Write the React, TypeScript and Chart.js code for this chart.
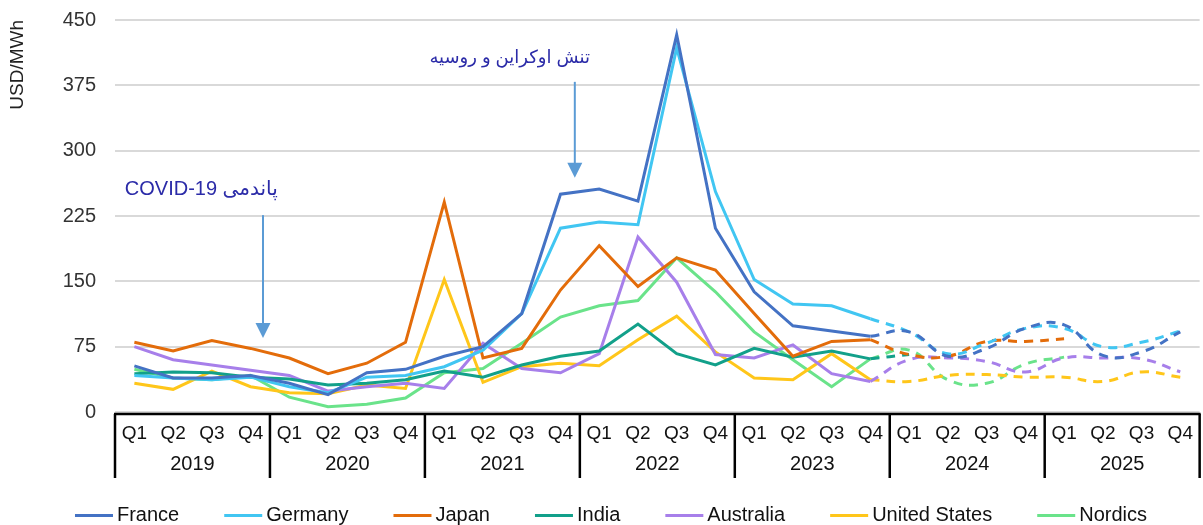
import React, { useEffect, useRef } from 'react';
import { Chart, registerables } from 'chart.js';

Chart.register(...registerables);

const quarterLabels = [
  'Q1','Q2','Q3','Q4','Q1','Q2','Q3','Q4','Q1','Q2','Q3','Q4','Q1','Q2','Q3','Q4',
  'Q1','Q2','Q3','Q4','Q1','Q2','Q3','Q4','Q1','Q2','Q3','Q4',
];
const years = ['2019', '2020', '2021', '2022', '2023', '2024', '2025'];
const yTicks = [0, 75, 150, 225, 300, 375, 450];

// Actual values, 2019 Q1 .. 2023 Q4
const france = [53, 39, 39, 42, 33, 20, 45, 49, 64, 75, 113, 250, 256, 242, 433, 211, 138, 99, 93, 87];
const germany = [42, 39, 37, 40, 29, 22, 40, 42, 52, 71, 113, 211, 218, 215, 418, 253, 152, 124, 122, 107];
const japan = [80, 70, 82, 73, 62, 44, 56, 80, 241, 62, 73, 140, 191, 144, 177, 163, 113, 64, 81, 83];
const india = [44, 46, 45, 40, 38, 31, 33, 37, 47, 40, 54, 64, 70, 101, 67, 54, 73, 63, 70, 61];
const australia = [75, 60, 54, 48, 42, 24, 29, 33, 27, 79, 50, 45, 67, 201, 149, 66, 62, 77, 44, 35];
const unitedStates = [33, 26, 47, 29, 22, 21, 31, 27, 152, 34, 52, 56, 53, 83, 110, 69, 39, 37, 67, 37];
const nordics = [49, 39, 37, 42, 17, 6, 9, 16, 45, 50, 79, 109, 122, 128, 177, 138, 92, 60, 29, 61];

// Forecasts, starting at 2023 Q4
const forecastStart = 19;
const franceF = [87, 92, 64, 73, 96, 100, 65, 69, 92];
const germanyF = [107, 92, 67, 79, 96, 96, 75, 80, 93];
const japanF = [83, 66, 64, 81, 81, 84];
const indiaF = [61, 66];
const australiaF = [35, 60, 62, 58, 46, 62, 62, 61, 46];
const unitedStatesF = [37, 35, 42, 43, 40, 40, 35, 46, 40];
const nordicsF = [61, 71, 37, 33, 55, 63];

const seriesNames = ['France', 'Germany', 'Japan', 'India', 'Australia', 'United States', 'Nordics'];
const seriesColors = ['#4472C4', '#41C6F2', '#E36C0A', '#12A08A', '#A77FEA', '#FFC61A', '#6AE38A'];
const actuals = [france, germany, japan, india, australia, unitedStates, nordics];
const forecasts = [franceF, germanyF, japanF, indiaF, australiaF, unitedStatesF, nordicsF];

const covidText = 'پاندمی COVID-19';
const ukraineText = 'تنش اوکراین و روسیه';

const FONT = "'Liberation Sans', Arial, 'DejaVu Sans', sans-serif";

function padForecast(arr: number[]): (number | null)[] {
  const out: (number | null)[] = quarterLabels.map(() => null);
  arr.forEach((v, i) => { out[forecastStart + i] = v; });
  return out;
}

const decorPlugin = {
  id: 'decor',
  afterDraw(chart: any) {
    const ctx = chart.ctx as CanvasRenderingContext2D;
    const ca = chart.chartArea;
    const xs = chart.scales.x;
    const ys = chart.scales.y;
    ctx.save();

    // x-axis box
    const boxTop = ca.bottom + 2;
    const boxBottom = ca.bottom + 66;
    ctx.strokeStyle = '#000';
    ctx.lineWidth = 2.5;
    ctx.beginPath();
    ctx.moveTo(ca.left - 1, boxTop);
    ctx.lineTo(ca.right + 1, boxTop);
    ctx.stroke();
    const bounds: number[] = [];
    for (let k = 0; k <= years.length; k++) {
      let x;
      if (k === 0) x = ca.left;
      else if (k === years.length) x = ca.right;
      else x = (xs.getPixelForValue(4 * k - 1) + xs.getPixelForValue(4 * k)) / 2;
      bounds.push(x);
      ctx.beginPath();
      ctx.moveTo(x, boxTop);
      ctx.lineTo(x, boxBottom);
      ctx.stroke();
    }
    ctx.fillStyle = '#111';
    ctx.font = `20px ${FONT}`;
    ctx.textAlign = 'center';
    ctx.textBaseline = 'middle';
    years.forEach((y, k) => {
      ctx.fillText(y, (bounds[k] + bounds[k + 1]) / 2, ca.bottom + 52);
    });

    // annotations
    const drawArrow = (xi: number, vTop: number, vTip: number) => {
      const x = xs.getPixelForValue(0) + (xs.getPixelForValue(1) - xs.getPixelForValue(0)) * xi;
      const yTop = ys.getPixelForValue(vTop);
      const yTip = ys.getPixelForValue(vTip);
      ctx.strokeStyle = '#5B9BD5';
      ctx.fillStyle = '#5B9BD5';
      ctx.lineWidth = 2;
      ctx.beginPath();
      ctx.moveTo(x, yTop);
      ctx.lineTo(x, yTip - 14);
      ctx.stroke();
      ctx.beginPath();
      ctx.moveTo(x - 7.5, yTip - 15);
      ctx.lineTo(x + 7.5, yTip - 15);
      ctx.lineTo(x, yTip);
      ctx.closePath();
      ctx.fill();
    };
    const drawText = (txt: string, xi: number, v: number, size: number) => {
      const x = xs.getPixelForValue(0) + (xs.getPixelForValue(1) - xs.getPixelForValue(0)) * xi;
      const y = ys.getPixelForValue(v);
      ctx.fillStyle = '#2B2BA8';
      ctx.font = `${size}px ${FONT}`;
      (ctx as any).direction = 'rtl';
      ctx.textAlign = 'right';
      ctx.textBaseline = 'middle';
      ctx.fillText(txt, x, y);
      (ctx as any).direction = 'ltr';
    };
    drawText(covidText, 3.7, 255, 20);
    drawArrow(3.32, 226, 85);
    drawText(ukraineText, 11.76, 406, 18);
    drawArrow(11.37, 379, 269);

    // legend
    ctx.font = `20px ${FONT}`;
    ctx.textAlign = 'left';
    ctx.textBaseline = 'middle';
    const lineW = 38;
    const gapText = 4;
    const gapItem = 45;
    const widths = seriesNames.map((n) => lineW + gapText + ctx.measureText(n).width);
    const total = widths.reduce((a, b) => a + b, 0) + gapItem * (widths.length - 1);
    let x = 611 - total / 2;
    const ly = chart.height - 10;
    seriesNames.forEach((n, i) => {
      ctx.strokeStyle = seriesColors[i];
      ctx.lineWidth = 3;
      ctx.beginPath();
      ctx.moveTo(x, ly + 0.5);
      ctx.lineTo(x + lineW, ly + 0.5);
      ctx.stroke();
      ctx.fillStyle = '#111';
      ctx.fillText(n, x + lineW + gapText, ly);
      x += widths[i] + gapItem;
    });
    ctx.restore();
  },
};

export default function App() {
  const ref = useRef<HTMLCanvasElement | null>(null);
  useEffect(() => {
    document.body.style.margin = '0';
    const canvas = ref.current!;
    const datasets: any[] = [];
    seriesNames.forEach((name, i) => {
      datasets.push({
        label: name,
        data: actuals[i],
        borderColor: seriesColors[i],
        backgroundColor: seriesColors[i],
        borderWidth: 3,
        pointRadius: 0,
        tension: 0,
        fill: false,
      });
    });
    seriesNames.forEach((name, i) => {
      datasets.push({
        label: name + ' (forecast)',
        data: padForecast(forecasts[i]),
        borderColor: seriesColors[i],
        backgroundColor: seriesColors[i],
        borderWidth: 3,
        borderDash: [9, 7],
        pointRadius: 0,
        tension: 0.45,
        cubicInterpolationMode: 'default',
        fill: false,
      });
    });
    const chart = new Chart(canvas, {
      type: 'line',
      data: { labels: quarterLabels, datasets },
      options: {
        animation: false,
        responsive: false,
        devicePixelRatio: 1,
        layout: { padding: { top: 20, right: 3, bottom: 45, left: 0 } },
        plugins: { legend: { display: false }, tooltip: { enabled: false } },
        scales: {
          x: {
            type: 'category',
            offset: true,
            grid: { display: false, drawTicks: false },
            border: { display: false },
            ticks: {
              autoSkip: false,
              maxRotation: 0,
              padding: 10,
              color: '#111',
              font: { size: 19, family: FONT },
            },
            afterFit: (s: any) => { s.height = 68; },
          },
          y: {
            min: 0,
            max: 450,
            afterBuildTicks: (s: any) => { s.ticks = yTicks.map((v) => ({ value: v })); },
            ticks: { padding: 19, color: '#333', font: { size: 20, family: FONT } },
            grid: { color: '#D9D9D9', lineWidth: 2, drawTicks: false },
            border: { display: false },
            title: {
              display: true,
              text: 'USD/MWh',
              align: 'end',
              color: '#222',
              font: { size: 19, family: FONT },
              padding: { top: 6, bottom: 0 },
            },
            afterFit: (s: any) => {
              s.width = 115;
              s.paddingTop = 0;
              s.paddingBottom = 0;
            },
          },
        },
      },
      plugins: [decorPlugin],
    });
    return () => chart.destroy();
  }, []);
  return <canvas ref={ref} width={1203} height={525} style={{ display: 'block' }} />;
}
